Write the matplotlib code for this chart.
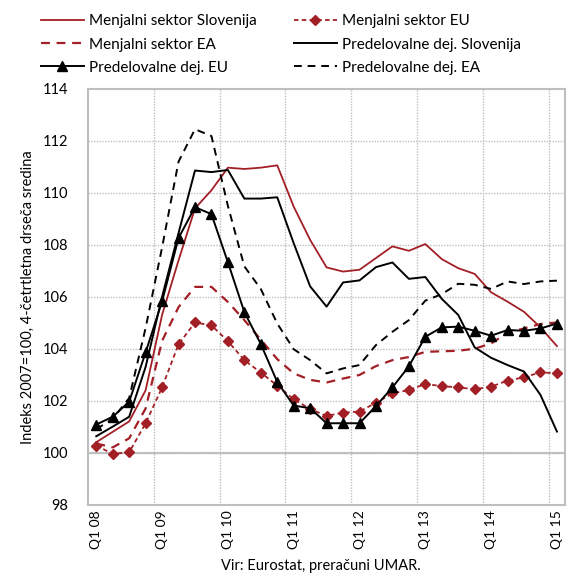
import matplotlib
matplotlib.use("Agg")
import matplotlib.pyplot as plt

plt.rcParams['font.family'] = ['Lato', 'DejaVu Sans']

quarters = [f"Q{q} {y:02d}" for y in range(8, 16) for q in range(1, 5)][:29]
tick_labels = ["Q1 08", "Q1 09", "Q1 10", "Q1 11", "Q1 12", "Q1 13", "Q1 14", "Q1 15"]

ms_slo = [100.4, 100.8, 101.2, 102.4, 105.3, 107.4, 109.4, 110.1, 110.97, 110.92,
          110.97, 111.06, 109.47, 108.19, 107.13, 106.97, 107.04, 107.49, 107.94, 107.77,
          108.03, 107.45, 107.1, 106.88, 106.17, 105.81, 105.42, 104.82, 104.1]
ms_eu = [100.27, 99.95, 100.01, 101.13, 102.51, 104.17, 105.01, 104.9, 104.29, 103.56,
         103.08, 102.58, 102.05, 101.68, 101.41, 101.54, 101.58, 101.92, 102.28, 102.41,
         102.64, 102.56, 102.51, 102.44, 102.54, 102.77, 102.9, 103.09, 103.05]
ms_ea = [100.35, 100.2, 100.55, 101.7, 104.3, 105.6, 106.38, 106.38, 105.8, 105.1,
         104.35, 103.6, 103.05, 102.8, 102.7, 102.85, 102.99, 103.33, 103.56, 103.68,
         103.88, 103.9, 103.92, 104.0, 104.2, 104.62, 104.78, 104.95, 105.01]
pd_slo = [100.63, 101.0, 101.38, 103.3, 106.0, 108.45, 110.86, 110.8, 110.88, 109.78,
          109.78, 109.83, 108.06, 106.4, 105.62, 106.55, 106.63, 107.14, 107.32, 106.69,
          106.76, 105.92, 105.3, 104.05, 103.65, 103.37, 103.12, 102.22, 100.81]
pd_eu = [101.08, 101.38, 101.96, 103.86, 105.82, 108.26, 109.45, 109.18, 107.33, 105.41,
         104.18, 102.72, 101.81, 101.71, 101.13, 101.13, 101.13, 101.79, 102.51, 103.32,
         104.46, 104.82, 104.85, 104.69, 104.5, 104.72, 104.69, 104.78, 104.97]
pd_ea = [100.9, 101.3, 102.1, 104.8, 107.9, 111.2, 112.45, 112.19, 109.5, 107.17,
         106.3, 104.97, 103.98, 103.56, 103.05, 103.24, 103.37, 104.14, 104.65, 105.1,
         105.85, 106.1, 106.5, 106.46, 106.3, 106.59, 106.49, 106.59, 106.62]

labels = ["Menjalni sektor Slovenija", "Menjalni sektor EU", "Menjalni sektor EA",
          "Predelovalne dej. Slovenija", "Predelovalne dej. EU", "Predelovalne dej. EA"]

RED = '#a31f26'
BLK = '#000000'
GRID = '#bfbfbf'

fig = plt.figure(figsize=(5.68, 5.74), dpi=100)
ax = fig.add_axes([0.155, 0.121, 0.840, 0.724])

x = list(range(len(quarters)))
h1, = ax.plot(x, ms_slo, color=RED, lw=1.3, label=labels[0])
h2, = ax.plot(x, ms_eu, color=RED, lw=1.3, ls=(0, (2.5, 1.8)), marker='D', ms=5.5, label=labels[1])
h3, = ax.plot(x, ms_ea, color=RED, lw=1.6, ls=(0, (4, 3)), label=labels[2])
h4, = ax.plot(x, pd_slo, color=BLK, lw=1.4, label=labels[3])
h5, = ax.plot(x, pd_eu, color=BLK, lw=1.4, marker='^', ms=7, label=labels[4])
h6, = ax.plot(x, pd_ea, color=BLK, lw=1.4, ls=(0, (4, 3)), label=labels[5])

ax.set_xlim(-0.5, 28.5)
ax.set_ylim(98, 114)
ax.set_yticks(range(98, 115, 2))
ax.set_xticks(list(range(0, 29, 4)))
ax.set_xticklabels(tick_labels, rotation=90, fontsize=10)
ax.tick_params(axis='y', labelsize=10.5, length=0, pad=14)
ax.tick_params(axis='x', length=0, pad=4)

for yv in range(100, 114, 2):
    ax.axhline(yv, color=GRID, lw=1.0, ls=(0, (1, 1)), zorder=0)
for xv in [3.5, 7.5, 11.5, 15.5, 19.5, 23.5, 27.5]:
    ax.axvline(xv, color=GRID, lw=1.0, ls=(0, (1, 1)), zorder=0)
ax.axhline(100, color=GRID, lw=1.5, zorder=0.5)

for s in ax.spines.values():
    s.set_color(GRID)
    s.set_linewidth(1.5)

ax.set_ylabel("Indeks 2007=100, 4-četrtletna drseča sredina", fontsize=10.5, labelpad=6)
fig.text(0.565, 0.002, "Vir: Eurostat, preračuni UMAR.", ha='center', va='bottom', fontsize=10.5)

handles = [h1, h3, h5, h2, h4, h6]
leg = fig.legend(handles=handles, labels=[h.get_label() for h in handles], ncol=2,
                 loc='upper left', bbox_to_anchor=(0.072, 0.975), frameon=False,
                 fontsize=11, handlelength=2.8, handletextpad=0.33,
                 columnspacing=2.45, labelspacing=0.6, borderaxespad=0, borderpad=0)

fig.savefig("out.png", dpi=100)
